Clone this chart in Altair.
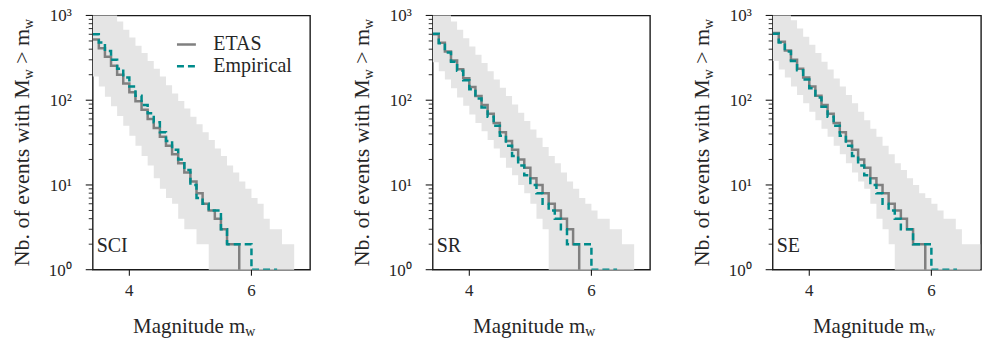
import altair as alt
import pandas as pd

# ---------------- data ----------------
MAGS = [3.4, 3.5, 3.6, 3.7, 3.8, 3.9, 4.0, 4.1, 4.2, 4.3, 4.4, 4.5, 4.6, 4.7, 4.8, 4.9,
        5.0, 5.1, 5.2, 5.3, 5.4, 5.5, 5.6, 5.7, 5.8, 5.9, 6.0, 6.1, 6.2, 6.3, 6.4, 6.5,
        6.6, 6.7, 6.8, 6.9, 7.0]

REGIONS = ["SCI", "SR", "SE"]
SERIES = ["ETAS", "Empirical"]
SERIES_COLORS = ["#808080", "#008b8b"]

ETAS_SCI = [520, 410, 325, 255, 200, 158, 124, 97, 77, 60, 47, 37, 29, 23, 18, 14, 11, 8, 6, 5, 4, 3, 2, 2, 0]
EMP_SCI = [600, 480, 380, 300, 235, 185, 145, 113, 88, 70, 55, 42, 33, 26, 20, 15, 10, 7, 6, 5, 5, 3, 2, 2, 2, 2, 1, 1, 1, 1, 0]
UP_SCI = [2000, 1600, 1250, 1050, 850, 680, 550, 440, 360, 290, 235, 190, 150, 120, 98, 80, 64, 52, 42, 34, 27, 22, 17, 14, 11, 9, 7, 6, 4, 3, 3, 2, 2, 0]
LO_SCI = [190, 145, 110, 85, 65, 50, 38, 29, 22, 17, 12, 9, 7, 6, 4, 3, 3, 2, 2, 0]

ETAS_SR = [600, 475, 375, 295, 232, 182, 143, 112, 88, 69, 54, 42, 33, 26, 20, 16, 12, 10, 8, 6, 5, 4, 3, 2, 0]
EMP_SR = [610, 470, 365, 285, 222, 172, 135, 105, 82, 64, 50, 38, 29, 22, 17, 13, 10, 8, 6, 5, 4, 3, 2, 2, 2, 2, 1, 1, 1, 1, 0]
UP_SR = [1650, 1300, 1050, 850, 680, 540, 430, 345, 275, 220, 175, 140, 112, 89, 71, 57, 45, 36, 28, 22, 18, 14, 11, 9, 7, 6, 5, 4, 4, 3, 3, 2, 2, 0]
LO_SR = [280, 220, 175, 138, 108, 86, 68, 54, 43, 34, 27, 21, 16, 13, 10, 8, 6, 4, 3, 0]

ETAS_SE = [620, 490, 385, 300, 235, 185, 145, 113, 88, 69, 54, 42, 33, 26, 20, 16, 12, 10, 8, 6, 5, 4, 3, 2, 2, 0]
EMP_SE = [610, 480, 375, 290, 225, 175, 138, 108, 84, 64, 50, 38, 29, 22, 17, 13, 10, 8, 6, 5, 4, 3, 3, 2, 2, 2, 1, 1, 1, 1, 0]
UP_SE = [1700, 1350, 1100, 880, 700, 560, 450, 360, 285, 230, 180, 145, 115, 92, 73, 58, 46, 37, 29, 23, 18, 15, 12, 10, 8, 7, 6, 5, 4, 4, 3, 2, 2, 2, 0]
LO_SE = [290, 230, 185, 145, 115, 92, 73, 58, 46, 37, 29, 23, 18, 14, 11, 9, 6, 4, 3, 2, 0]

ETAS = {"SCI": ETAS_SCI, "SR": ETAS_SR, "SE": ETAS_SE}
EMPIRICAL = {"SCI": EMP_SCI, "SR": EMP_SR, "SE": EMP_SE}
BAND_UPPER = {"SCI": UP_SCI, "SR": UP_SR, "SE": UP_SE}
BAND_LOWER = {"SCI": LO_SCI, "SR": LO_SR, "SE": LO_SE}

Y_MAJOR = [1, 10, 100, 1000]
Y_MAJOR_LABELS = ["10⁰", "10¹", "10²", "10³"]
Y_MINOR = [2, 3, 4, 5, 6, 7, 8, 9, 20, 30, 40, 50, 60, 70, 80, 90,
           200, 300, 400, 500, 600, 700, 800, 900]
X_TICKS = [4, 6]
X_TICK_LABELS = ["4", "6"]

# ---------------- styling ----------------
FONT = "Liberation Serif"
TEXT_COLOR = "#262626"
FRAME = "#1a1a1a"
FLOOR = 0.5  # zero counts are drawn below the log axis (clipped)
PX_PER_MAG = 61.24
PLOT_H = 255
WIDTHS = [218, 218, 209]


def line_rows(region):
    rows = []
    for name, values in (("ETAS", ETAS[region]), ("Empirical", EMPIRICAL[region])):
        for m, v in zip(MAGS, values):
            rows.append({"m": m, "n": max(v, FLOOR), "series": name})
            if v == 0:
                break
    return pd.DataFrame(rows)


def band_rows(region):
    up = BAND_UPPER[region]
    lo = BAND_LOWER[region] + [0] * (len(up) - len(BAND_LOWER[region]))
    return pd.DataFrame({"m": MAGS[:len(up)],
                         "upper": [max(v, FLOOR) for v in up],
                         "lower": [max(v, FLOOR) for v in lo]})


def text_layer(text, x, y, size, align="left", angle=0):
    return alt.Chart(pd.DataFrame({"t": [text]})).mark_text(
        font=FONT, fontSize=size, align=align, baseline="alphabetic",
        angle=angle, color=TEXT_COLOR
    ).encode(x=alt.value(x), y=alt.value(y), text="t:N")


def panel(region, width, show_legend):
    xmax = 3.4 + width / PX_PER_MAG
    xscale = alt.Scale(domain=[3.4, xmax], nice=False, zero=False)
    yscale = alt.Scale(type="log", domain=[1, 1000], nice=False)

    band = alt.Chart(band_rows(region)).mark_area(
        interpolate="step-after", color="#e5e5e5", clip=True
    ).encode(
        x=alt.X("m:Q", scale=xscale, axis=None),
        y=alt.Y("upper:Q", scale=yscale, axis=None),
        y2="lower:Q",
    )

    # y axis: major / minor ticks and labels, placed through the log scale
    y_major = alt.Chart(pd.DataFrame({"v": Y_MAJOR, "lab": Y_MAJOR_LABELS}))
    y_major_ticks = y_major.mark_rule(color=FRAME, strokeWidth=1.1).encode(
        y=alt.Y("v:Q", scale=yscale, axis=None), x=alt.value(-7), x2=alt.value(0))
    y_labels = y_major.mark_text(
        font=FONT, fontSize=17, align="right", baseline="middle", color=TEXT_COLOR, dy=1
    ).encode(y=alt.Y("v:Q", scale=yscale, axis=None), x=alt.value(-21), text="lab:N")
    y_minor_ticks = alt.Chart(pd.DataFrame({"v": Y_MINOR})).mark_rule(
        color=FRAME, strokeWidth=0.9
    ).encode(y=alt.Y("v:Q", scale=yscale, axis=None), x=alt.value(-4), x2=alt.value(0))

    # x axis ticks and labels, placed through the linear scale
    x_major = alt.Chart(pd.DataFrame({"v": X_TICKS, "lab": X_TICK_LABELS}))
    x_ticks = x_major.mark_rule(color=FRAME, strokeWidth=1.1).encode(
        x=alt.X("v:Q", scale=xscale, axis=None),
        y=alt.value(PLOT_H), y2=alt.value(PLOT_H + 6))
    x_labels = x_major.mark_text(
        font=FONT, fontSize=17, align="center", baseline="alphabetic", color=TEXT_COLOR
    ).encode(x=alt.X("v:Q", scale=xscale, axis=None), y=alt.value(PLOT_H + 26),
             text="lab:N")

    if show_legend:
        legend = alt.Legend(title=None, orient="top-right", offset=18,
                            labelFont=FONT, labelFontSize=20, labelColor=TEXT_COLOR,
                            symbolType="stroke", symbolSize=360, symbolStrokeWidth=2.5,
                            labelOffset=16, rowPadding=1, padding=0)
    else:
        legend = None

    lines = alt.Chart(line_rows(region)).mark_line(
        interpolate="step-after", strokeWidth=2.5, clip=True
    ).encode(
        x=alt.X("m:Q", scale=xscale, axis=None),
        y=alt.Y("n:Q", scale=yscale, axis=None),
        color=alt.Color("series:N", scale=alt.Scale(domain=SERIES, range=SERIES_COLORS),
                        legend=legend),
        strokeDash=alt.StrokeDash("series:N",
                                  scale=alt.Scale(domain=SERIES, range=[[1, 0], [7, 4]]),
                                  legend=legend),
    )

    # region label and axis titles (with subscripts built from separate text pieces)
    bx = -64
    j1 = 64
    layers = [
        band, y_minor_ticks, y_major_ticks, y_labels, x_ticks, x_labels, lines,
        text_layer(region, 4, 237, 20),
        # x title: "Magnitude m_w"
        text_layer("Magnitude m", 153, 318, 21, align="right"),
        text_layer("w", 153, 322, 14),
        # y title: "Nb. of events with M_w > m_w"
        text_layer("Nb. of events with M", bx, j1, 22, align="right", angle=270),
        text_layer("w", bx + 4, j1, 14, angle=270),
        text_layer("> m", bx, j1 - 10 - 5.5, 22, angle=270),
        text_layer("w", bx + 4, j1 - 15.5 - 35, 14, angle=270),
    ]
    return alt.layer(*layers).properties(width=width, height=PLOT_H)


panels = [panel(r, w, i == 0) for i, (r, w) in enumerate(zip(REGIONS, WIDTHS))]

chart = alt.hconcat(*panels, spacing=123, bounds="flush").resolve_scale(
    color="independent", strokeDash="independent"
).resolve_legend(
    color="independent", strokeDash="independent"
).properties(
    padding={"left": 10, "top": 6, "right": 0, "bottom": 0}
).configure_view(
    stroke=FRAME, strokeWidth=1.4
)

chart.save("out.html", embed_options={"renderer": "svg", "actions": False})
